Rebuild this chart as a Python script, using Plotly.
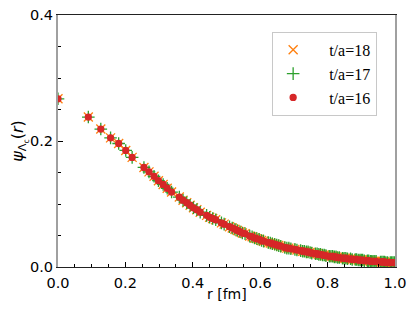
import plotly.graph_objects as go

# lattice distances r [fm]
r_fm = [0.000, 0.090, 0.127, 0.156, 0.180, 0.201, 0.220, 0.255, 0.270, 0.285,
        0.298, 0.312, 0.324, 0.337, 0.360, 0.371, 0.382, 0.392, 0.402, 0.412,
        0.422, 0.441, 0.450, 0.459, 0.468, 0.485, 0.493, 0.509, 0.517, 0.525,
        0.532, 0.540, 0.547, 0.555, 0.569, 0.576, 0.583, 0.590, 0.597, 0.604,
        0.610, 0.624, 0.630, 0.636, 0.643, 0.649, 0.655, 0.661, 0.673, 0.679,
        0.685, 0.691, 0.703, 0.709, 0.720, 0.726, 0.731, 0.737, 0.742, 0.748,
        0.753, 0.764, 0.769, 0.774, 0.779, 0.785, 0.790, 0.795, 0.805, 0.810,
        0.815, 0.820, 0.825, 0.830, 0.835, 0.844, 0.849, 0.854, 0.859, 0.868,
        0.873, 0.882, 0.886, 0.891, 0.896, 0.900, 0.904, 0.909, 0.918, 0.922,
        0.927, 0.931, 0.935, 0.940, 0.944, 0.957, 0.961, 0.965, 0.969, 0.973,
        0.978, 0.986, 0.990, 0.994, 0.998]

psi_t18 = [0.267, 0.238, 0.219, 0.205, 0.196, 0.185, 0.174, 0.158, 0.151, 0.144,
           0.137, 0.131, 0.125, 0.119, 0.111, 0.106, 0.102, 0.098, 0.094, 0.091,
           0.087, 0.082, 0.079, 0.077, 0.075, 0.070, 0.068, 0.064, 0.062, 0.060,
           0.058, 0.056, 0.054, 0.053, 0.049, 0.048, 0.046, 0.045, 0.044, 0.042,
           0.041, 0.039, 0.038, 0.037, 0.036, 0.035, 0.034, 0.033, 0.031, 0.030,
           0.030, 0.029, 0.028, 0.027, 0.026, 0.025, 0.025, 0.024, 0.024, 0.023,
           0.022, 0.021, 0.021, 0.020, 0.020, 0.019, 0.019, 0.018, 0.017, 0.017,
           0.017, 0.016, 0.016, 0.015, 0.015, 0.014, 0.014, 0.014, 0.013, 0.013,
           0.012, 0.012, 0.012, 0.011, 0.011, 0.011, 0.011, 0.010, 0.010, 0.010,
           0.009, 0.009, 0.009, 0.009, 0.009, 0.008, 0.008, 0.008, 0.008, 0.007,
           0.007, 0.007, 0.007, 0.007, 0.007]
psi_t17 = list(psi_t18)
psi_t16 = list(psi_t18)
err_psi = 0.002

series_names = ["t/a=18", "t/a=17", "t/a=16"]
series = [
    (series_names[0], psi_t18, "#ff7f0e", "x-thin-open", 9),
    (series_names[1], psi_t17, "#2ca02c", "cross-thin-open", 9),
    (series_names[2], psi_t16, "#d62728", "circle", 6),
]

fig = go.Figure()
for name, vals, col, sym, sz in series:
    fig.add_trace(go.Scatter(
        x=r_fm, y=vals, mode="markers", name="\u2002\u2002" + name,
        marker=dict(symbol=sym, size=sz, color=col, line=dict(color=col, width=1.3)),
        error_y=dict(type="constant", value=err_psi, color=col, thickness=1, width=0),
    ))

fig.update_layout(
    width=399, height=295,
    margin=dict(l=50, r=12, t=7, b=36),
    paper_bgcolor="white", plot_bgcolor="white",
    font=dict(family="DejaVu Sans", size=14.5, color="black"),
    legend=dict(
        x=0.947, y=0.933, xanchor="right", yanchor="top",
        bgcolor="white", bordercolor="#c8c8c8", borderwidth=1,
        font=dict(family="Liberation Serif", size=16),
        itemwidth=30, tracegroupgap=2,
    ),
    annotations=[dict(
        text="r [fm]", xref="paper", yref="paper", x=0.5, y=-0.106,
        xanchor="center", yanchor="middle", showarrow=False,
        font=dict(family="DejaVu Sans", size=14, color="black"),
    )],
)
fig.update_xaxes(
    range=[0, 1.0], tickvals=[0, 0.2, 0.4, 0.6, 0.8, 1.0],
    ticktext=["0.0", "0.2", "0.4", "0.6", "0.8", "1.0"],
    ticks="inside", ticklen=5, tickcolor="black", ticklabelstandoff=2,
    minor=dict(dtick=0.05, ticks="inside", ticklen=3, tickcolor="black"),
    showline=True, linecolor="#222222", linewidth=1.2, mirror=True,
    showgrid=False, zeroline=False, automargin=False, ticklabeloverflow="allow",
)
fig.update_yaxes(
    range=[0, 0.4], tickvals=[0, 0.2, 0.4], ticktext=["0.0", "0.2", "0.4"],
    ticks="inside", ticklen=5, tickcolor="black",
    minor=dict(dtick=0.05, ticks="inside", ticklen=3, tickcolor="black"),
    showline=True, linecolor="#a0a0a0", linewidth=2, mirror=True,
    showgrid=False, zeroline=False, automargin=False, ticklabeloverflow="allow",
    title=dict(text="<i>ψ</i><sub>Λ<sub>c</sub></sub>(<i>r</i>)", standoff=1, font=dict(size=16)),
)
fig.write_html("out.html")
